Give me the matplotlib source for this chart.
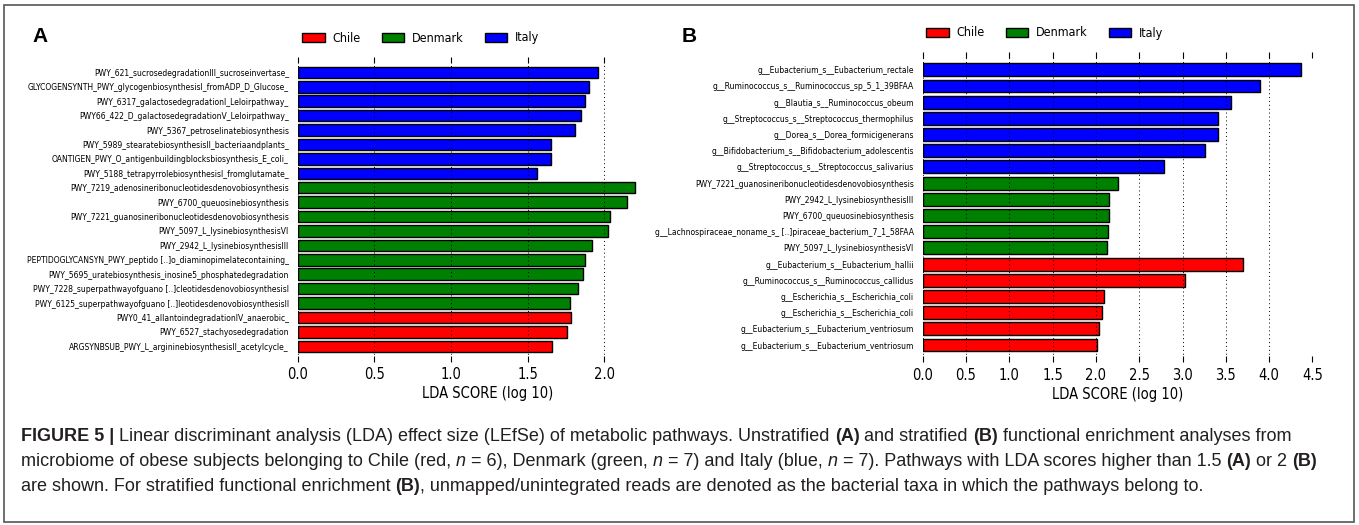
import matplotlib
matplotlib.use("Agg")
import matplotlib.pyplot as plt
from matplotlib import font_manager as fm
from matplotlib.patches import Patch, Rectangle

# ---- data -------------------------------------------------------------
groups = ["Chile", "Denmark", "Italy"]
group_colors = {"Chile": "#ff0000", "Denmark": "#008000", "Italy": "#0000ff"}

a_labels = [
    "PWY_621_sucrosedegradationIII_sucroseinvertase_",
    "GLYCOGENSYNTH_PWY_glycogenbiosynthesisI_fromADP_D_Glucose_",
    "PWY_6317_galactosedegradationI_Leloirpathway_",
    "PWY66_422_D_galactosedegradationV_Leloirpathway_",
    "PWY_5367_petroselinatebiosynthesis",
    "PWY_5989_stearatebiosynthesisII_bacteriaandplants_",
    "OANTIGEN_PWY_O_antigenbuildingblocksbiosynthesis_E_coli_",
    "PWY_5188_tetrapyrrolebiosynthesisI_fromglutamate_",
    "PWY_7219_adenosineribonucleotidesdenovobiosynthesis",
    "PWY_6700_queuosinebiosynthesis",
    "PWY_7221_guanosineribonucleotidesdenovobiosynthesis",
    "PWY_5097_L_lysinebiosynthesisVI",
    "PWY_2942_L_lysinebiosynthesisIII",
    "PEPTIDOGLYCANSYN_PWY_peptido [..]o_diaminopimelatecontaining_",
    "PWY_5695_uratebiosynthesis_inosine5_phosphatedegradation",
    "PWY_7228_superpathwayofguano [..]cleotidesdenovobiosynthesisI",
    "PWY_6125_superpathwayofguano [..]leotidesdenovobiosynthesisII",
    "PWY0_41_allantoindegradationIV_anaerobic_",
    "PWY_6527_stachyosedegradation",
    "ARGSYNBSUB_PWY_L_argininebiosynthesisII_acetylcycle_",
]
a_scores = [1.96, 1.90, 1.875, 1.845, 1.81, 1.655, 1.655, 1.56,
            2.20, 2.15, 2.04, 2.025, 1.92, 1.875, 1.86, 1.83, 1.775,
            1.78, 1.755, 1.66]
a_groups = ["Italy"] * 8 + ["Denmark"] * 9 + ["Chile"] * 3
a_ticks = [0.0, 0.5, 1.0, 1.5, 2.0]

b_labels = [
    "g__Eubacterium_s__Eubacterium_rectale",
    "g__Ruminococcus_s__Ruminococcus_sp_5_1_39BFAA",
    "g__Blautia_s__Ruminococcus_obeum",
    "g__Streptococcus_s__Streptococcus_thermophilus",
    "g__Dorea_s__Dorea_formicigenerans",
    "g__Bifidobacterium_s__Bifidobacterium_adolescentis",
    "g__Streptococcus_s__Streptococcus_salivarius",
    "PWY_7221_guanosineribonucleotidesdenovobiosynthesis",
    "PWY_2942_L_lysinebiosynthesisIII",
    "PWY_6700_queuosinebiosynthesis",
    "g__Lachnospiraceae_noname_s_ [..]piraceae_bacterium_7_1_58FAA",
    "PWY_5097_L_lysinebiosynthesisVI",
    "g__Eubacterium_s__Eubacterium_hallii",
    "g__Ruminococcus_s__Ruminococcus_callidus",
    "g__Escherichia_s__Escherichia_coli",
    "g__Escherichia_s__Escherichia_coli",
    "g__Eubacterium_s__Eubacterium_ventriosum",
    "g__Eubacterium_s__Eubacterium_ventriosum",
]
b_scores = [4.37, 3.895, 3.565, 3.415, 3.405, 3.255, 2.785,
            2.25, 2.15, 2.15, 2.145, 2.13,
            3.70, 3.03, 2.09, 2.07, 2.04, 2.01]
b_groups = ["Italy"] * 7 + ["Denmark"] * 5 + ["Chile"] * 6
b_ticks = [0.0, 0.5, 1.0, 1.5, 2.0, 2.5, 3.0, 3.5, 4.0, 4.5]

caption = [
    [("FIGURE 5 | ", "bold"),
     ("Linear discriminant analysis (LDA) effect size (LEfSe) of metabolic pathways. Unstratified ", ""),
     ("(A)", "bold"), (" and stratified ", ""), ("(B)", "bold"),
     (" functional enrichment analyses from", "")],
    [("microbiome of obese subjects belonging to Chile (red, ", ""), ("n", "italic"),
     (" = 6), Denmark (green, ", ""), ("n", "italic"),
     (" = 7) and Italy (blue, ", ""), ("n", "italic"),
     (" = 7). Pathways with LDA scores higher than 1.5 ", ""), ("(A)", "bold"),
     (" or 2 ", ""), ("(B)", "bold")],
    [("are shown. For stratified functional enrichment ", ""), ("(B)", "bold"),
     (", unmapped/unintegrated reads are denoted as the bacterial taxa in which the pathways belong to.", "")],
]

# ---- setup ------------------------------------------------------------
W, H = 1359, 525
fig = plt.figure(figsize=(W / 100, H / 100), dpi=100)
fig.patch.set_facecolor("white")
renderer = fig.canvas.get_renderer()

# narrow sans for the chart part, if there is one
names = {f.name for f in fm.fontManager.ttflist}
if "DejaVu Sans Condensed" in names:
    plt.rcParams["font.family"] = "DejaVu Sans Condensed"
elif any(f.name == "DejaVu Sans" and "ondensed" in f.fname for f in fm.fontManager.ttflist):
    plt.rcParams["font.family"] = "DejaVu Sans"
    plt.rcParams["font.stretch"] = "condensed"
else:
    plt.rcParams["font.family"] = "DejaVu Sans"

CAP_FONT = "Liberation Sans"
CAP_COLOR = "#231f20"


def fx(x):
    return x / W


def fy(y):
    return 1 - y / H


def text_width(s, size, **kw):
    t = fig.text(0, 0, s, fontsize=size, **kw)
    w = t.get_window_extent(renderer).width
    t.remove()
    return w


def fit(s, target, **kw):
    return 10 * target / text_width(s, 10, **kw)


lab_size = fit("GLYCOGENSYNTH_PWY_glycogenbiosynthesisI_fromADP_D_Glucose_", 261)
tick_size = fit("LDA SCORE (log 10)", 131)
leg_size = fit("Denmark", 52)


def panel(left, top, right, bottom, labels, scores, grp, ticks, xmax):
    ax = fig.add_axes([fx(left), fy(bottom), (right - left) / W, (bottom - top) / H])
    n = len(labels)
    ypos = list(range(n))
    ax.barh(ypos, scores, height=0.8, color=[group_colors[g] for g in grp],
            edgecolor="black", linewidth=1)
    ax.set_ylim(n - 1 + 1.05, -1.1)
    ax.set_xlim(0, xmax)
    ax.set_yticks(ypos)
    ax.set_yticklabels(labels, fontsize=lab_size)
    ax.set_xticks(ticks)
    for s in ax.spines.values():
        s.set_visible(False)
    ax.tick_params(axis="y", length=0, pad=6.3)
    ax.tick_params(axis="x", direction="in", top=True, bottom=True, length=4,
                   width=0.8, labelsize=tick_size, pad=4)
    ax.xaxis.grid(True, linestyle=(0, (1, 3)), color="black", linewidth=0.7)
    ax.set_axisbelow(False)
    ax.set_xlabel("LDA SCORE (log 10)", fontsize=tick_size, labelpad=3)
    return ax


panel(297.7, 56.5, 297.7 + 2.48 * 153.3, 361.5, a_labels, a_scores, a_groups, a_ticks, 2.48)
panel(922.7, 52, 922.7 + 4.5 * 86.6, 362, b_labels, b_scores, b_groups, b_ticks, 4.5)

# legends
em = leg_size * 100 / 72
handles = [Patch(facecolor=group_colors[g], edgecolor="black", linewidth=1, label=g) for g in groups]
for lx, ly in [(302, 38), (926, 33)]:
    fig.legend(handles=handles, loc="center left", bbox_to_anchor=(fx(lx), fy(ly)),
               ncol=3, frameon=False, fontsize=leg_size, borderpad=0, borderaxespad=0,
               handlelength=22.5 / em, handleheight=9 / em, handletextpad=8 / em,
               columnspacing=21 / em)

# panel letters
fig.text(fx(32), fy(42), "A", family=CAP_FONT, fontweight="bold", fontsize=15, va="baseline")
fig.text(fx(682), fy(42), "B", family=CAP_FONT, fontweight="bold", fontsize=15, va="baseline")


# caption, drawn run by run
def style_kw(st):
    kw = dict(family=CAP_FONT, color=CAP_COLOR)
    if st == "bold":
        kw["fontweight"] = "bold"
    elif st == "italic":
        kw["fontstyle"] = "italic"
    return kw


def draw_runs(x, y, runs, size, draw=True):
    for s, st in runs:
        kw = style_kw(st)
        if draw:
            fig.text(fx(x), fy(y), s, fontsize=size, va="baseline", ha="left", **kw)
        x += text_width("x" + s + "x", size, **kw) - text_width("xx", size, **kw)
    return x


cap_size = 10 * 1272 / draw_runs(0, 0, caption[0], 10, draw=False)
for i, line in enumerate(caption):
    draw_runs(21, 441 + 25 * i, line, cap_size)

# outer frame
fig.add_artist(Rectangle((fx(4), fy(522)), (1354 - 4) / W, (522 - 5) / H,
                         transform=fig.transFigure, fill=False,
                         edgecolor="#555555", linewidth=1.2))

fig.savefig("out.png", dpi=100)
